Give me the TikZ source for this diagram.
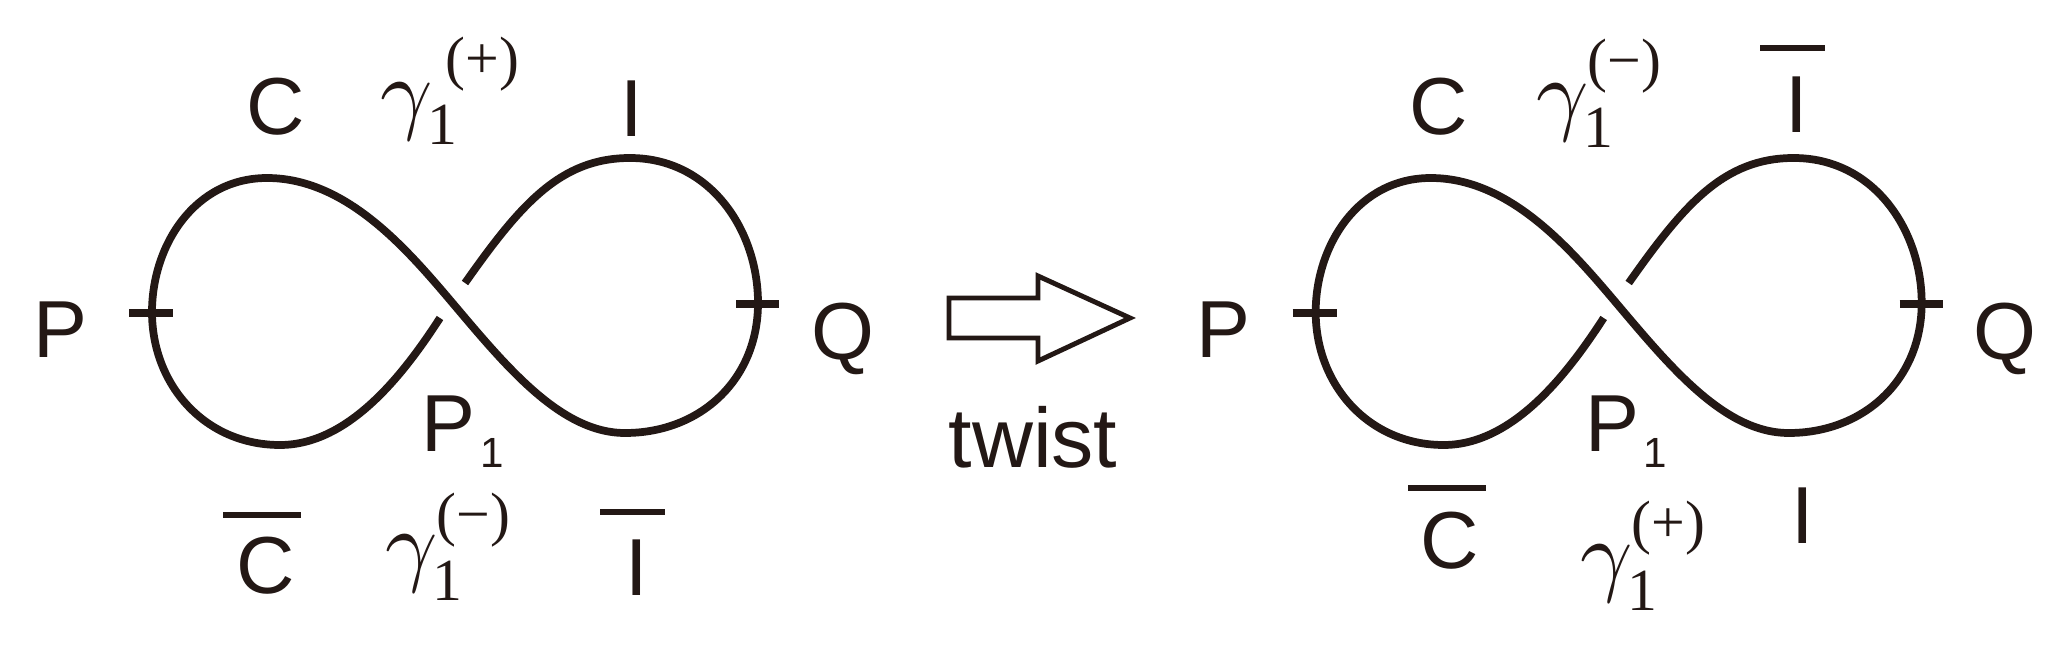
\documentclass[tikz,border=0pt]{standalone}
\usepackage{graphicx}
\usepackage{fontspec}
\setmainfont{Liberation Sans}
\newfontfamily\serif{Liberation Serif}
\definecolor{ink}{HTML}{231815}
\newcommand{\biggam}{\scalebox{2.6}{$\gamma$}}
\begin{document}
\begin{tikzpicture}[x=0.01cm,y=-0.01cm,
  knot/.style={line width=2.2pt, draw=ink, line cap=butt},
  tick/.style={line width=2pt, draw=ink},
  bar/.style={line width=1.9pt, draw=ink},
  lab/.style={font=\fontsize{23}{23}\selectfont, text=ink, inner sep=0pt, anchor=base},
  gam/.style={text=ink, inner sep=0pt, anchor=base west},
  gsc/.style={font=\serif\fontsize{17}{17}\selectfont, text=ink, inner sep=0pt, anchor=base west},
  psub/.style={font=\fontsize{12}{12}\selectfont, text=ink, inner sep=0pt, anchor=base west},
]
\useasboundingbox (0,0) rectangle (2061,652);
\fill[white] (0,0) rectangle (2061,652);

% the two figure-eight curves
\foreach \s in {0,11.63}{
\begin{scope}[xshift=\s cm]
\draw[knot] (465,283) .. controls (520,205) and (560,158) .. (630,158)
  .. controls (710,158) and (758,230) .. (758,303)
  .. controls (758,380) and (700,433) .. (625,433)
  .. controls (560,433) and (505,365) .. (450,300)
  .. controls (405,247) and (345,178) .. (267,178)
  .. controls (195,178) and (152,245) .. (152,312)
  .. controls (152,385) and (205,445) .. (280,445)
  .. controls (350,445) and (405,372) .. (440,318);
\draw[tick] (129,313) -- (173,313);
\draw[tick] (736,304) -- (779,304);
\end{scope}}

% left figure labels
\node[lab] (PL) at (60,357) {P};
\node[lab] (QL) at (843,360) {Q};
\node[lab] (CL) at (276,135) {C};
\node[lab] (IL) at (632,137) {I};
\node[lab] (CbL) at (266,593) {C};
\node[lab] (IbL) at (637,595) {I};
\draw[bar] (223,515) -- (301,515);
\draw[bar] (600,512) -- (665,512);
\node[lab, anchor=base west] (P1L) at (421,452) {P};
\node[psub] (P1Ls) at (480,468) {1};
\node[gam] (gLt) at (380,123) {\biggam};
\node[gsc] (gLts) at (427,145) {1};
\node[gsc] (gLtp) at (445,79) {(+)};
\node[gam] (gLb) at (385,574) {\biggam};
\node[gsc] (gLbs) at (432,600) {1};
\node[gsc] (gLbp) at (436,534) {(−)};

% arrow
\draw[line width=1.4pt, draw=ink] (949,298) -- (1038,298) -- (1038,276) -- (1130,318)
  -- (1038,361) -- (1038,338) -- (949,338) -- cycle;
\node[lab, font=\fontsize{24}{24}\selectfont] (tw) at (1033,467) {twist};

% right figure labels
\node[lab] (PR) at (1223,357) {P};
\node[lab] (QR) at (2005,360) {Q};
\node[lab] (CR) at (1439,135) {C};
\node[lab] (IbR) at (1797,133) {I};
\draw[bar] (1760,48) -- (1825,48);
\node[lab] (CbR) at (1450,568) {C};
\draw[bar] (1408,488) -- (1486,488);
\node[lab] (IR) at (1803,543) {I};
\node[lab, anchor=base west] (P1R) at (1585,452) {P};
\node[psub] (P1Rs) at (1643,467) {1};
\node[gam] (gRt) at (1536,124) {\biggam};
\node[gsc] (gRts) at (1583,148) {1};
\node[gsc] (gRtp) at (1587,81) {(−)};
\node[gam] (gRb) at (1580,584) {\biggam};
\node[gsc] (gRbs) at (1627,610) {1};
\node[gsc] (gRbp) at (1631,542) {(+)};
\end{tikzpicture}
\end{document}
